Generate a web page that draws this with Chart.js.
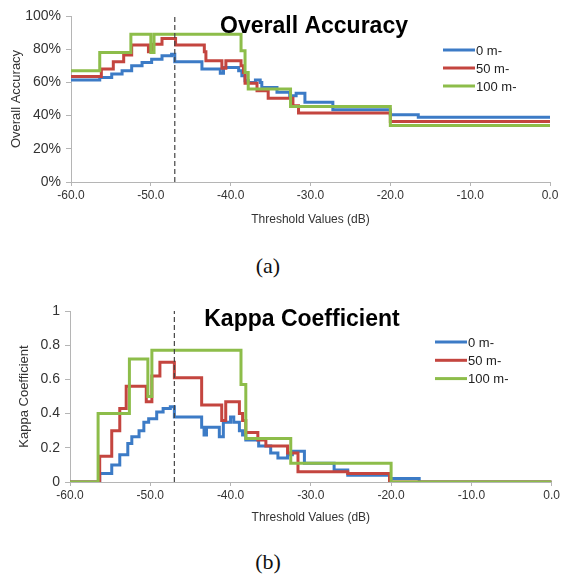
<!DOCTYPE html>
<html>
<head>
<meta charset="utf-8">
<script src="https://cdn.jsdelivr.net/npm/chart.js@4"></script>
<style>
  body { margin: 0; background: #fff; }
  #wrap { position: relative; width: 562px; height: 579px; }
  canvas { position: absolute; left: 0; }
  .cap { position: absolute; width: 536px; text-align: center; font: 22px "Liberation Serif", "Times New Roman", serif; color: #111; }
</style>
</head>
<body>
<div id="wrap">
  <canvas id="chartOA" width="562" height="240" style="top:0"></canvas>
  <div class="cap" style="top:253px">(a)</div>
  <canvas id="chartKappa" width="562" height="250" style="top:280px"></canvas>
  <div class="cap" style="top:549px">(b)</div>
</div>
<script>
// threshold (dB) where each step starts, and the value held until the next one
const xTicks = [-60, -50, -40, -30, -20, -10, 0];
const xTickLabels = ['-60.0', '-50.0', '-40.0', '-30.0', '-20.0', '-10.0', '0.0'];
const oaTicks = [0, 20, 40, 60, 80, 100];
const oaTickLabels = ['0%', '20%', '40%', '60%', '80%', '100%'];
const kappaTicks = [0, 0.2, 0.4, 0.6, 0.8, 1];
const kappaTickLabels = ['0', '0.2', '0.4', '0.6', '0.8', '1'];
const bestThreshold = -47;

// Overall accuracy (%)
const oa0X   = [-60, -56.4, -54.9, -53.6, -52.4, -51.1, -49.9, -48.6, -47.4, -47.0, -43.6, -41.3, -40.9, -39.0, -38.6, -38.2, -37.8, -36.9, -36.3, -36.1, -34.2, -32.6, -31.8, -30.7, -27.2, -20.0, -16.5, 0];
const oa0Y   = [61.5, 63, 65, 67, 70, 72, 74, 76, 77, 72.5, 68, 65.5, 69, 67, 64, 61, 60, 61.5, 60, 57, 54, 52, 53.5, 48, 43.5, 40.5, 39, 39];
const oa50X  = [-60, -56.2, -54.7, -53.4, -52.4, -50.3, -49.8, -48.6, -46.9, -43.3, -43.1, -41.1, -40.6, -38.7, -38.4, -38.2, -36.7, -35.3, -32.2, -31.5, -20.0, 0];
const oa50Y  = [63.5, 68, 72.5, 76.5, 82.5, 78.5, 83, 86.5, 82.5, 78.5, 73, 68.5, 73, 70, 66, 59.5, 55, 50.5, 46, 41.5, 36.5, 36.5];
const oa100X = [-60, -56.4, -52.5, -50.0, -49.6, -38.7, -38.2, -37.8, -32.5, -20.0, 0];
const oa100Y = [67, 78, 89, 78, 89, 79, 66, 56, 45.5, 34, 34];

// Kappa coefficient
const k0X   = [-60, -56.3, -54.8, -53.8, -52.8, -52.3, -51.4, -50.8, -50.2, -49.2, -48.4, -47.5, -47.0, -43.6, -43.3, -43.0, -41.4, -40.9, -40.0, -39.6, -38.9, -38.5, -38.1, -36.5, -35.0, -34.1, -32.9, -32.3, -30.8, -27.1, -25.4, -20.2, -16.5, 0];
const k0Y   = [0, 0.05, 0.10, 0.16, 0.225, 0.265, 0.30, 0.35, 0.37, 0.41, 0.43, 0.44, 0.38, 0.32, 0.275, 0.32, 0.265, 0.35, 0.38, 0.35, 0.30, 0.275, 0.245, 0.21, 0.17, 0.14, 0.16, 0.18, 0.11, 0.07, 0.04, 0.02, 0, 0];
const k50X  = [-60, -56.3, -54.8, -53.8, -53.0, -50.5, -49.8, -48.8, -47.0, -43.6, -41.1, -40.6, -38.9, -38.5, -38.1, -36.6, -35.6, -32.9, -31.6, -25.4, -20.2, 0];
const k50Y  = [0, 0.15, 0.30, 0.43, 0.56, 0.47, 0.62, 0.70, 0.61, 0.45, 0.36, 0.47, 0.40, 0.36, 0.29, 0.245, 0.21, 0.17, 0.06, 0.05, 0, 0];
const k100X = [-60, -56.5, -52.6, -50.3, -49.8, -38.7, -38.1, -32.5, -20.0, 0];
const k100Y = [0, 0.40, 0.72, 0.50, 0.77, 0.57, 0.255, 0.11, 0, 0];

const seriesNames = ['0 m-', '50 m-', '100 m-'];
const colors = ['#3C7BC6', '#C4453F', '#8DBD4A'];

function toPoints(xs, ys) {
    return xs.map((x, i) => ({ x: x, y: ys[i] }));
}

const FONT = '"Liberation Sans", Arial, sans-serif';

// title and legend sit inside the plot area, so draw them ourselves
const overlay = {
    id: 'overlay',
    afterDraw(chart, args, opts) {
        const ctx = chart.ctx;
        ctx.save();
        ctx.fillStyle = '#000';
        ctx.font = 'bold 23px ' + FONT;
        ctx.textAlign = 'center';
        ctx.textBaseline = 'alphabetic';
        ctx.fillText(opts.title, opts.titleX, opts.titleY);

        ctx.font = '13px ' + FONT;
        ctx.textAlign = 'left';
        ctx.textBaseline = 'middle';
        let row = 0;
        chart.data.datasets.forEach(ds => {
            if (!ds.label) return;
            const y = opts.legendY + row * opts.legendGap;
            ctx.strokeStyle = ds.borderColor;
            ctx.lineWidth = 3;
            ctx.beginPath();
            ctx.moveTo(opts.legendX, y);
            ctx.lineTo(opts.legendX + 32, y);
            ctx.stroke();
            ctx.fillStyle = '#222';
            ctx.fillText(ds.label, opts.legendX + 33, y + 1);
            row++;
        });
        ctx.restore();
    }
};

function makeChart(id, series, yMax, yTicks, yTickLabels, yTitle, yWidth, yTitlePad, xHeight, padding, overlayOpts) {
    const datasets = series.map((s, i) => ({
        label: seriesNames[i],
        data: s,
        borderColor: colors[i],
        borderWidth: 3,
        pointRadius: 0,
        stepped: true,
        order: 3 - i
    }));
    datasets.push({
        label: '',
        data: [{ x: bestThreshold, y: 0 }, { x: bestThreshold, y: yMax }],
        borderColor: '#444',
        borderWidth: 1.2,
        borderDash: [5, 3],
        pointRadius: 0,
        order: 0
    });

    return new Chart(document.getElementById(id), {
        type: 'line',
        data: { datasets: datasets },
        plugins: [overlay],
        options: {
            responsive: false,
            animation: false,
            layout: { padding: padding },
            plugins: {
                legend: { display: false },
                tooltip: { enabled: false },
                overlay: overlayOpts
            },
            scales: {
                x: {
                    type: 'linear',
                    min: -60,
                    max: 0,
                    afterBuildTicks: s => { s.ticks = xTicks.map(v => ({ value: v })); },
                    afterFit: s => { s.height = xHeight; },
                    ticks: {
                        autoSkip: false,
                        maxRotation: 0,
                        padding: 2,
                        color: '#333',
                        font: { family: FONT, size: 12 },
                        callback: (v, i) => xTickLabels[i]
                    },
                    grid: { drawOnChartArea: false, tickLength: 4, color: '#B5B5B5' },
                    border: { color: '#B5B5B5', width: 1 },
                    title: {
                        display: true,
                        text: 'Threshold Values (dB)',
                        color: '#333',
                        font: { family: FONT, size: 12 },
                        padding: { top: 0, bottom: 5 }
                    }
                },
                y: {
                    min: 0,
                    max: yMax,
                    afterBuildTicks: s => { s.ticks = yTicks.map(v => ({ value: v })); },
                    afterFit: s => { s.width = yWidth; },
                    ticks: {
                        padding: 5,
                        color: '#333',
                        font: { family: FONT, size: 14 },
                        callback: (v, i) => yTickLabels[i]
                    },
                    grid: { drawOnChartArea: false, tickLength: 5, color: '#B5B5B5' },
                    border: { color: '#B5B5B5', width: 1 },
                    title: {
                        display: true,
                        text: yTitle,
                        color: '#333',
                        font: { family: FONT, size: 13 },
                        padding: { top: yTitlePad, bottom: 0 }
                    }
                }
            }
        }
    });
}

makeChart('chartOA',
    [toPoints(oa0X, oa0Y), toPoints(oa50X, oa50Y), toPoints(oa100X, oa100Y)],
    100, oaTicks, oaTickLabels, 'Overall Accuracy', 71, 9, 50,
    { top: 16, right: 12, bottom: 8, left: 0 },
    { title: 'Overall Accuracy', titleX: 314, titleY: 33, legendX: 443, legendY: 50, legendGap: 18 });

makeChart('chartKappa',
    [toPoints(k0X, k0Y), toPoints(k50X, k50Y), toPoints(k100X, k100Y)],
    1, kappaTicks, kappaTickLabels, 'Kappa Coefficient', 70, 17, 48,
    { top: 31, right: 9, bottom: 0, left: 0 },
    { title: 'Kappa Coefficient', titleX: 302, titleY: 46, legendX: 435, legendY: 62, legendGap: 18.3 });
</script>
</body>
</html>
